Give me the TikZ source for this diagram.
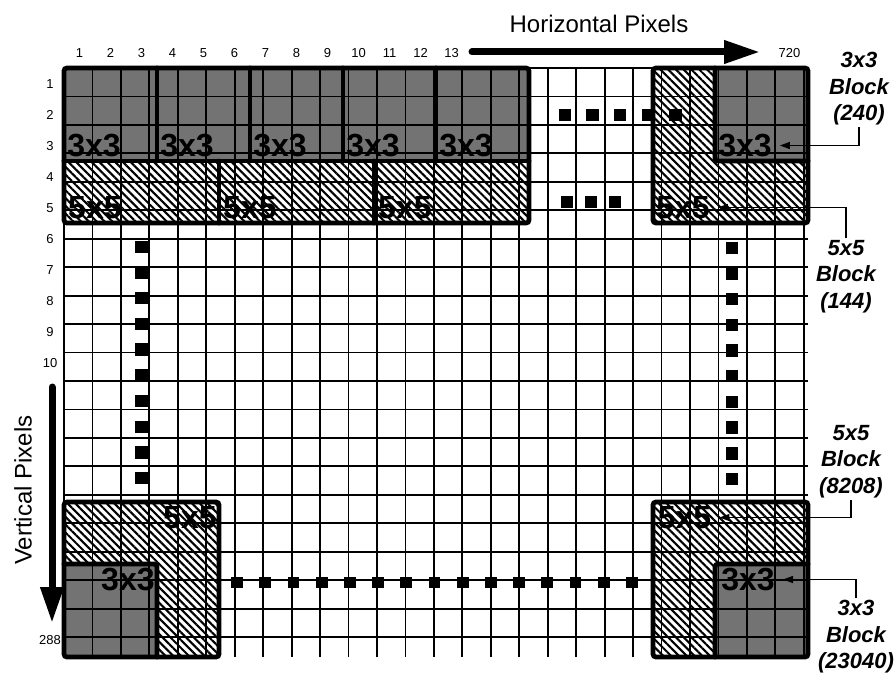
\documentclass[tikz,border=0pt]{standalone}
\usepackage{fontspec}
\setmainfont{Liberation Sans}
\usetikzlibrary{arrows.meta, patterns.meta, positioning}

\begin{document}
\begin{tikzpicture}[x=1pt, y=-1pt,
    thingrid/.style={line width=1.8pt},
    blockedge/.style={line width=4.8pt, rounded corners=3pt, line cap=round},
    darkcell/.style={fill=black!55},
    hatchcell/.style={pattern={Lines[angle=-45, distance=5.5pt, line width=2.1pt]}},
    blocklabel/.style={font=\fontsize{32}{32}\selectfont\bfseries, inner sep=0pt},
    numlabel/.style={font=\fontsize{13}{13}\selectfont, inner sep=0pt, text height=9.4pt, text depth=0pt},
    axislabel/.style={font=\fontsize{24}{24}\selectfont, inner sep=0pt},
    annot/.style={font=\fontsize{22}{26.5}\selectfont\bfseries\itshape, align=center, inner sep=2pt, anchor=north},
    axisarrow/.style={line width=7pt, line cap=round, -{Triangle[length=36pt, width=22pt]}},
    pointer/.style={line width=1.3pt, -{Triangle[length=10pt, width=7pt]}, shorten >=8pt}]

    % Page frame
    \useasboundingbox (0,0) rectangle (894,677);
    \fill[white] (0,0) rectangle (894,677);

    % Pixel grid, one unit per pixel cell
    \begin{scope}[shift={(64,68)}, x=31pt, y=-31pt]
        % Hatched 5x5 blocks
        \fill[hatchcell] (0,3) rectangle (15,5);
        \fill[hatchcell] (19,0) rectangle (24,5);
        \fill[hatchcell] (0,14) rectangle (5,19);
        \fill[hatchcell] (19,14) rectangle (24,19);

        % Shaded 3x3 blocks
        \fill[darkcell] (0,0) rectangle (15,3);
        \fill[darkcell] (21,0) rectangle (24,3);
        \fill[darkcell] (0,16) rectangle (3,19);
        \fill[darkcell] (21,16) rectangle (24,19);

        % Cell lines
        \draw[thingrid] (0,0) grid (24,19);

        % Block borders
        \draw[blockedge] (0,0) rectangle (15,5);
        \draw[blockedge] (0,3) -- (15,3);
        \foreach \c in {3,6,9,12} {
            \draw[blockedge] (\c,0) -- (\c,3);
        }
        \foreach \c in {5,10} {
            \draw[blockedge] (\c,3) -- (\c,5);
        }
        \draw[blockedge] (19,0) rectangle (24,5);
        \draw[blockedge] (21,0) -- (21,3) -- (24,3);
        \draw[blockedge] (0,14) rectangle (5,19);
        \draw[blockedge] (0,16) -- (3,16) -- (3,19);
        \draw[blockedge] (19,14) rectangle (24,19);
        \draw[blockedge] (21,19) -- (21,16) -- (24,16);

        % Ellipsis marks
        \foreach \i in {0,...,4} {
            \fill (16.16+0.89*\i,1.52) +(-0.2,-0.19) rectangle +(0.2,0.19);
        }
        \foreach \i in {0,1,2} {
            \fill (16.23+0.77*\i,4.33) +(-0.2,-0.19) rectangle +(0.2,0.19);
        }
        \foreach \i in {0,...,9} {
            \fill (2.5,5.77+0.829*\i) +(-0.2,-0.2) rectangle +(0.2,0.2);
            \fill (21.55,5.8+0.829*\i) +(-0.2,-0.2) rectangle +(0.2,0.2);
        }
        \foreach \i in {0,...,14} {
            \fill (5.58+0.91*\i,16.6) +(-0.19,-0.19) rectangle +(0.19,0.19);
        }

        % Block names
        \foreach \c [count=\n] in {0,3,6,9,12} {
            \node[blocklabel, anchor=west] (tl33\n) at (\c+0.1,2.5) {3x3};
        }
        \foreach \c [count=\n] in {0,5,10} {
            \node[blocklabel, anchor=west] (tl55\n) at (\c+0.13,4.5) {5x5};
        }
        \node[blocklabel, anchor=west] (tr33) at (21.1,2.5) {3x3};
        \node[blocklabel, anchor=west] (tr55) at (19.1,4.5) {5x5};
        \node[blocklabel, anchor=east] (bl55) at (4.93,14.5) {5x5};
        \node[blocklabel, anchor=east] (bl33) at (2.93,16.5) {3x3};
        \node[blocklabel, anchor=west] (br55) at (19.15,14.5) {5x5};
        \node[blocklabel, anchor=west] (br33) at (21.2,16.5) {3x3};

        % Pixel indices
        \foreach \c in {1,...,13} {
            \node[numlabel] (col\c) at (\c-0.5,-0.5) {\c};
        }
        \node[numlabel] (colmax) at (23.4,-0.5) {720};
        \foreach \r in {1,...,10} {
            \node[numlabel] (row\r) at (-0.45,\r-0.5) {\r};
        }
        \node[numlabel] (rowmax) at (-0.45,18.45) {288};
    \end{scope}

    % Scan directions
    \node[axislabel] (hpix) at (599,24) {Horizontal Pixels};
    \coordinate (hstart) at (472,52);
    \coordinate (hend) at (760,52);
    \draw[axisarrow] (hstart) -- (hend);
    \node[axislabel, rotate=90] (vpix) at (23,490) {Vertical Pixels};
    \coordinate (vstart) at (52,387);
    \coordinate (vend) at (52,623);
    \draw[axisarrow] (vstart) -- (vend);

    % Block counts
    \node[annot] (cnt240) at (859,50) {3x3\\Block\\(240)};
    \node[annot] (cnt144) at (846,238) {5x5\\Block\\(144)};
    \node[annot] (cnt8208) at (851,423) {5x5\\Block\\(8208)};
    \node[annot] (cnt23040) at (856,598) {3x3\\Block\\(23040)};
    \draw[pointer] (cnt240.south) |- (tr33.east);
    \draw[pointer] (cnt144.north) |- (tr55.east);
    \draw[pointer] (cnt8208.south) |- (br55.east);
    \draw[pointer] (cnt23040.north) |- (br33.east);
\end{tikzpicture}
\end{document}
